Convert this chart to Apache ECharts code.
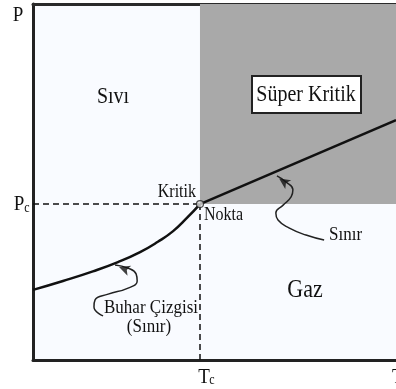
<!DOCTYPE html>
<html lang="tr">
<head>
    <meta charset="UTF-8">
    <title>Faz Diyagramı</title>
    <script type="text/javascript" src="https://cdn.jsdelivr.net/npm/echarts@6/dist/echarts.min.js"></script>
    <style>
        html, body { margin: 0; padding: 0; background: #fff; }
    </style>
</head>
<body>
<div id="main" style="width: 396px;height:389px"></div>

<script type="text/javascript">
    // kritik nokta
    var tc = 46.0;
    var pc = 43.8;

    // buhar çizgisi (sıvı / gaz sınırı)
    var vaporT = [0, 8.26, 16.5, 23.4, 29.5, 34.4, 38.6, 42.4, 46.0];
    var vaporP = [19.7, 22.2, 24.9, 27.5, 30.3, 33.2, 36.2, 39.9, 43.8];

    // süper kritik sınır
    var boundT = [46.0, 100];
    var boundP = [43.8, 67.4];

    // ok eğrileri
    var sinirArrowT = [67.2, 69.7, 71.6, 71.1, 68.9, 66.9, 67.5, 70.5, 75.2, 80.2];
    var sinirArrowP = [51.7, 50.0, 47.8, 45.8, 43.5, 41.3, 39.3, 37.1, 35.1, 33.7];
    var buharArrowT = [22.6, 26.2, 28.4, 28.7, 26.2, 20.7, 17.1, 16.8, 19.3];
    var buharArrowP = [26.7, 25.8, 24.2, 22.2, 20.2, 18.5, 16.9, 14.9, 12.4];

    function pairs(xs, ys) {
        var out = [];
        for (var i = 0; i < xs.length; i++) out.push([xs[i], ys[i]]);
        return out;
    }

    var serif = '"Liberation Serif", "DejaVu Serif", serif';
    function txt(x, y, s, size, align) {
        return {
            type: 'text', x: x, y: y, z: 100, scaleY: 1.15,
            style: {
                text: s, fill: '#111', font: size + 'px ' + serif,
                align: align || 'center', verticalAlign: 'middle'
            }
        };
    }

    var chart = echarts.init(document.getElementById('main'));
    var option = {
        animation: false,
        grid: {
            left: 33, right: 0, top: 4, bottom: 29,
            show: true, backgroundColor: '#f9fbff', borderWidth: 0
        },
        xAxis: [{
            type: 'value', min: 0, max: 100,
            axisLine: { show: true, lineStyle: { color: '#222', width: 3 } },
            axisTick: { show: false }, axisLabel: { show: false }, splitLine: { show: false }
        }, {
            type: 'value', min: 0, max: 100, position: 'top',
            axisLine: { show: true, lineStyle: { color: '#2a2a2a', width: 3 } },
            axisTick: { show: false }, axisLabel: { show: false }, splitLine: { show: false }
        }],
        yAxis: {
            type: 'value', min: 0, max: 100,
            axisLine: { show: true, lineStyle: { color: '#222', width: 3 } },
            axisTick: { show: false }, axisLabel: { show: false }, splitLine: { show: false }
        },
        series: [
            {
                type: 'line', data: pairs(boundT, boundP), symbol: 'none', z: 5,
                lineStyle: { color: '#111', width: 2.5 },
                markArea: {
                    silent: true,
                    itemStyle: { color: '#a9a9a9' },
                    data: [[{ coord: [tc, pc] }, { coord: [100, 100] }]]
                },
                markLine: {
                    silent: true, symbol: 'none', label: { show: false },
                    lineStyle: { color: '#111', width: 1.5, type: [6, 4] },
                    data: [
                        [{ coord: [0, pc] }, { coord: [tc, pc] }],
                        [{ coord: [tc, 0] }, { coord: [tc, pc] }]
                    ]
                }
            },
            {
                type: 'line', data: pairs(vaporT, vaporP), symbol: 'none',
                smooth: 0.5, z: 5,
                lineStyle: { color: '#111', width: 2.5 }
            },
            {
                type: 'line', data: pairs(sinirArrowT, sinirArrowP), symbol: 'none', smooth: 0.5, z: 5,
                lineStyle: { color: '#222', width: 1.5 }
            },
            {
                type: 'line', data: pairs(buharArrowT, buharArrowP), symbol: 'none', smooth: 0.5, z: 5,
                lineStyle: { color: '#222', width: 1.5 }
            },
            {
                type: 'scatter', z: 6, symbol: 'arrow', symbolSize: [8, 11],
                itemStyle: { color: '#111' },
                data: [
                    { value: [67.8, 51.0], symbolRotate: 56 },
                    { value: [23.7, 26.1], symbolRotate: 70 }
                ]
            },
            {
                type: 'scatter', z: 7, symbol: 'circle', symbolSize: 7,
                itemStyle: { color: '#ddd', borderColor: '#222', borderWidth: 1.2 },
                data: [[tc, pc]]
            }
        ],
        graphic: [
            txt(18, 15, 'P', 19),
            txt(19, 204, 'P', 19),
            txt(27, 208, 'c', 12),
            txt(204, 377, 'T', 19),
            txt(212, 380, 'c', 12),
            txt(392, 377, 'T', 19, 'left'),
            txt(113, 97, 'Sıvı', 20),
            {
                type: 'rect', z: 90,
                shape: { x: 252, y: 76, width: 109, height: 37 },
                style: { fill: '#fff', stroke: '#222', lineWidth: 2 }
            },
            txt(306, 95, 'Süper Kritik', 20),
            txt(196, 192, 'Kritik', 16, 'right'),
            txt(204, 215, 'Nokta', 16, 'left'),
            txt(329, 235, 'Sınır', 17, 'left'),
            txt(305, 290, 'Gaz', 22),
            txt(151, 308, 'Buhar Çizgisi', 17),
            txt(149, 327, '(Sınır)', 17)
        ]
    };
    chart.setOption(option);
</script>
</body>
</html>
